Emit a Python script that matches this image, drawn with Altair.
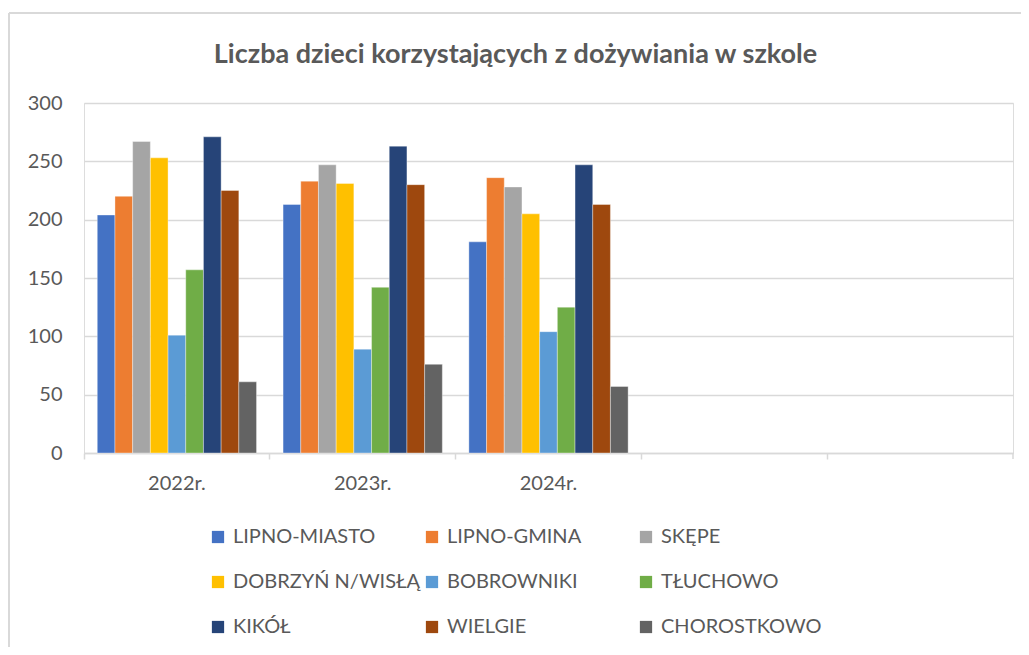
import altair as alt
import pandas as pd

years = ["2022r.", "2023r.", "2024r."]
x_domain = ["2022r.", "2023r.", "2024r.", " ", "  "]
gminy = ["LIPNO-MIASTO", "LIPNO-GMINA", "SKĘPE", "DOBRZYŃ N/WISŁĄ", "BOBROWNIKI",
         "TŁUCHOWO", "KIKÓŁ", "WIELGIE", "CHOROSTKOWO"]
colors = ["#4472C4", "#ED7D31", "#A5A5A5", "#FFC000", "#5B9BD5",
          "#70AD47", "#264478", "#9E480E", "#636363"]
v2022 = [204, 220, 267, 253, 101, 157, 271, 225, 61]
v2023 = [213, 233, 247, 231, 89, 142, 263, 230, 76]
v2024 = [181, 236, 228, 205, 104, 125, 247, 213, 57]
y_ticks = [0, 50, 100, 150, 200, 250, 300]

rows = []
for yr, vals in zip(years, [v2022, v2023, v2024]):
    for g, v in zip(gminy, vals):
        rows.append({"rok": yr, "gmina": g, "liczba": v})
df = pd.DataFrame(rows)

FONT = "Lato"
TXT = "#595959"
GRID = "#d9d9d9"

bars = alt.Chart(df).mark_bar(stroke="white", strokeWidth=0.6, strokeOpacity=0.6).encode(
    x=alt.X("rok:N", title=None,
            scale=alt.Scale(domain=x_domain, paddingInner=0, paddingOuter=0),
            axis=alt.Axis(labelAngle=0, bandPosition=0, ticks=True, tickSize=6,
                          tickColor=GRID, tickWidth=1.5, domainColor=GRID, domainWidth=1.5,
                          labelFont=FONT, labelFontSize=20, labelColor=TXT,
                          labelPadding=14, grid=False, labelAlign="center")),
    xOffset=alt.XOffset("gmina:N", sort=gminy,
                        scale=alt.Scale(domain=gminy, paddingInner=0, paddingOuter=0.75)),
    y=alt.Y("liczba:Q", title=None,
            scale=alt.Scale(domain=[0, 300], nice=False),
            axis=alt.Axis(values=y_ticks, domain=False, ticks=False, grid=True,
                          gridColor=GRID, gridWidth=1.5,
                          labelFont=FONT, labelFontSize=20, labelColor=TXT,
                          labelPadding=22)),
    color=alt.Color("gmina:N", sort=gminy,
                    scale=alt.Scale(domain=gminy, range=colors),
                    legend=alt.Legend(title=None, orient="none", legendX=124, legendY=424,
                                      direction="horizontal", columns=3, gridAlign="all",
                                      padding=0,
                                      symbolType="square", symbolSize=150, symbolStrokeWidth=0,
                                      labelFont=FONT, labelFontSize=20, labelColor=TXT,
                                      labelOffset=5, columnPadding=1, rowPadding=25,
                                      labelLimit=300)),
)

deco = pd.DataFrame([{"k": 1}])
end_tick = alt.Chart(deco).mark_rule(color=GRID, strokeWidth=1.5).encode(
    x=alt.value(929), y=alt.value(350), y2=alt.value(356))
border_left = alt.Chart(deco).mark_rule(color=GRID, strokeWidth=2).encode(
    x=alt.value(-75), y=alt.value(-90), y2=alt.value(560))
border_top = alt.Chart(deco).mark_rule(color=GRID, strokeWidth=2).encode(
    x=alt.value(-75), x2=alt.value(960), y=alt.value(-90))

chart = alt.layer(bars, end_tick, border_left, border_top).properties(
    width=929, height=350,
    title=alt.TitleParams("Liczba dzieci korzystających z dożywiania w szkole",
                          font=FONT, fontSize=27, fontWeight="bold", color=TXT,
                          anchor="middle", dx=-33, offset=-57),
    autosize=alt.AutoSizeParams(type="none"),
    padding={"left": 76, "top": 95, "right": 8, "bottom": 194},
).configure_view(stroke=None).configure(background="white")

chart.save("out.html", embed_options={"renderer": "svg", "actions": False})
